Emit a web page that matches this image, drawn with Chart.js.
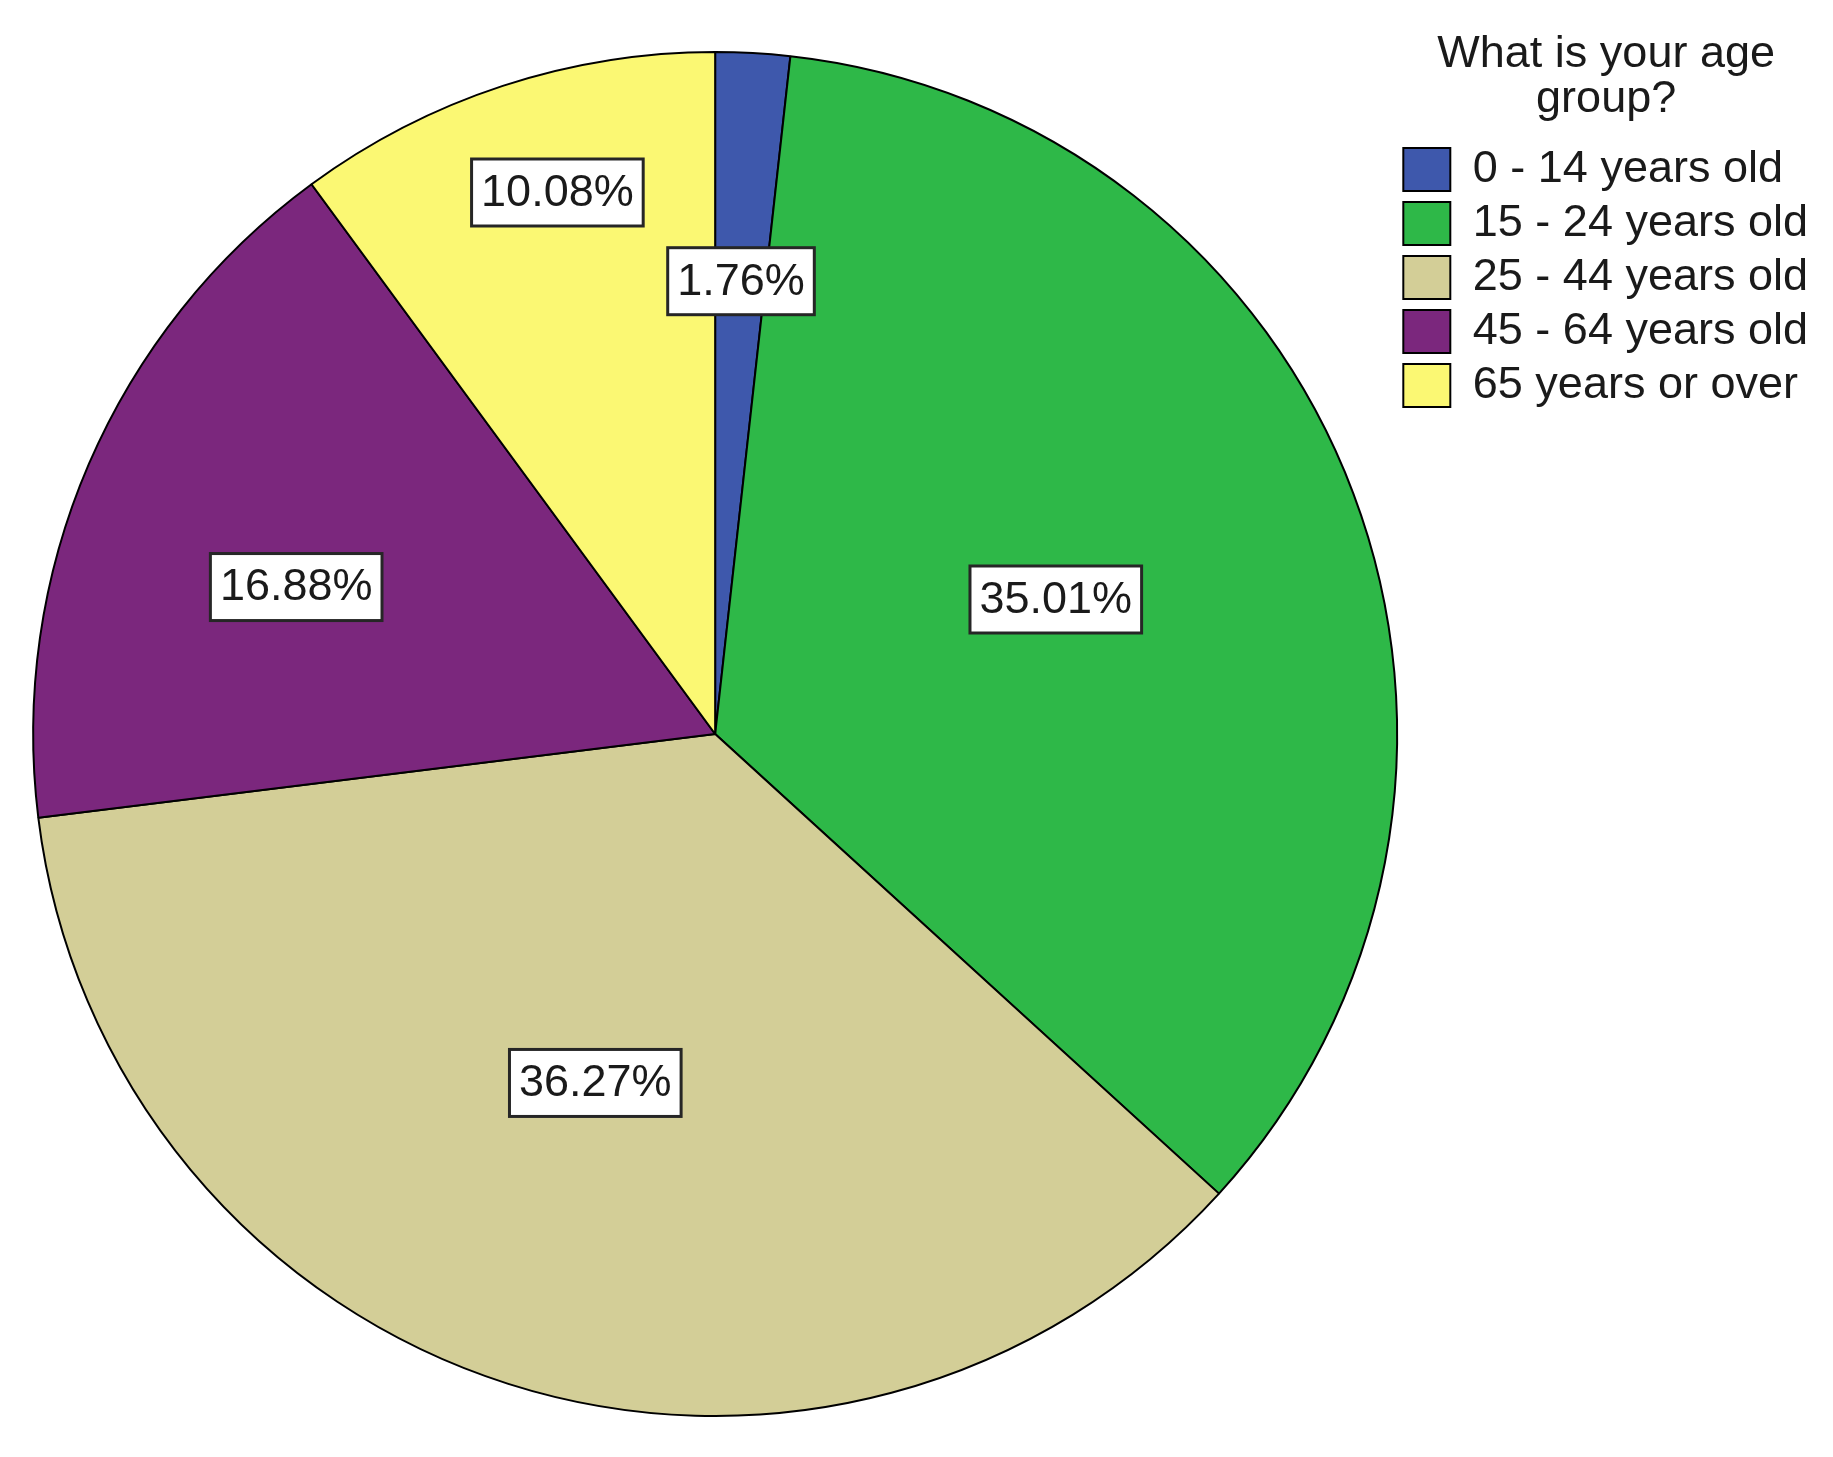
<!DOCTYPE html>
<html>
<head>
<meta charset="utf-8">
<script src="https://cdn.jsdelivr.net/npm/chart.js@4.4.1/dist/chart.umd.min.js"></script>
<style>
  html, body { margin: 0; padding: 0; background: #ffffff; }
  #wrap { position: relative; width: 1833px; height: 1457px; }
</style>
</head>
<body>
<div id="wrap"><canvas id="c"></canvas></div>
<script>
// ---- data ----
const categories = ['0 - 14 years old', '15 - 24 years old', '25 - 44 years old', '45 - 64 years old', '65 years or over'];
const percentages = [1.76, 35.01, 36.27, 16.88, 10.08];
const legendTitle = ['What is your age', 'group?'];

// ---- style ----
const sliceColors = ['#3E58AC', '#2EB848', '#D3CE97', '#7B277D', '#FBF873'];
const FONT = '"Liberation Sans", Arial, Helvetica, sans-serif';
const TEXT_COLOR = '#1a1a1a';
// label placement: fraction of outer radius, and angular nudge (degrees, clockwise)
const labelRadial = [0.665, 0.537, 0.541, 0.651, 0.827];
const labelAngleShift = [0.1, -0.9, 1.3, -4.0, 1.9];

const sliceLabels = {
  id: 'sliceLabels',
  afterDatasetsDraw(chart) {
    const meta = chart.getDatasetMeta(0);
    const ctx = chart.ctx;
    ctx.save();
    ctx.font = '45px ' + FONT;
    ctx.textAlign = 'center';
    ctx.textBaseline = 'middle';
    meta.data.forEach((arc, i) => {
      const p = arc.getProps(['x', 'y', 'startAngle', 'endAngle', 'outerRadius'], true);
      const a = (p.startAngle + p.endAngle) / 2 + labelAngleShift[i] * Math.PI / 180;
      const r = p.outerRadius * labelRadial[i];
      const cx = p.x + Math.cos(a) * r;
      const cy = p.y + Math.sin(a) * r;
      const text = percentages[i].toFixed(2) + '%';
      const w = ctx.measureText(text).width + 19;
      const h = 67;
      ctx.fillStyle = '#ffffff';
      ctx.fillRect(cx - w / 2, cy - h / 2, w, h);
      ctx.lineWidth = 3;
      ctx.strokeStyle = '#262626';
      ctx.strokeRect(cx - w / 2, cy - h / 2, w, h);
      ctx.fillStyle = TEXT_COLOR;
      ctx.fillText(text, cx, cy + 1);
    });
    ctx.restore();
  }
};

new Chart(document.getElementById('c'), {
  type: 'pie',
  data: {
    labels: categories,
    datasets: [{
      data: percentages,
      backgroundColor: sliceColors,
      borderColor: '#000000',
      borderWidth: 2,
      hoverBorderWidth: 2,
      hoverOffset: 0,
      offset: 0,
      clip: false
    }]
  },
  options: {
    responsive: true,
    maintainAspectRatio: false,
    animation: false,
    events: [],
    radius: 682,
    layout: { padding: { top: 11, bottom: 0, left: 36, right: 15 } },
    plugins: {
      tooltip: { enabled: false },
      legend: {
        display: true,
        position: 'right',
        align: 'start',
        labels: {
          boxWidth: 47,
          boxHeight: 43,
          padding: 9,
          color: TEXT_COLOR,
          font: { family: FONT, size: 45, lineHeight: 1 }
        },
        title: {
          display: true,
          text: legendTitle,
          color: TEXT_COLOR,
          font: { family: FONT, size: 45, lineHeight: 1 },
          padding: { top: 21, bottom: 61 }
        }
      }
    }
  },
  plugins: [sliceLabels]
});
</script>
</body>
</html>
